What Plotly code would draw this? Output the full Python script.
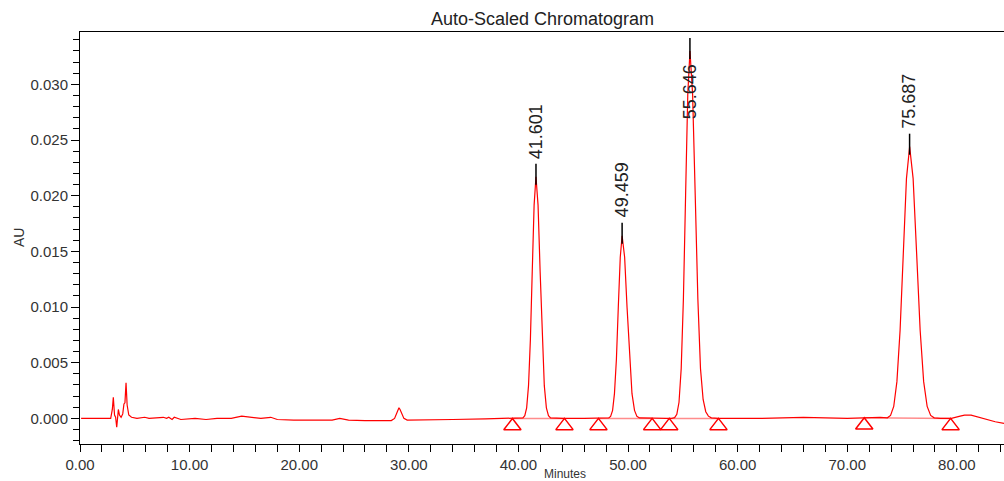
import numpy as np
import plotly.graph_objects as go

# ---------------- data ----------------
# chromatogram trace (minutes, AU)
time_min = [
    0.10, 1.00, 2.00, 2.80, 2.95, 3.04, 3.15, 3.25, 3.35, 3.43, 3.50, 3.60, 3.75, 3.90,
    4.01, 4.10, 4.20, 4.30, 4.45, 4.70, 5.20, 5.90, 6.30, 7.60, 7.90, 8.10, 8.40, 8.60,
    9.20, 10.50, 11.50, 12.50, 13.80, 14.75, 15.50, 16.50, 17.40, 18.00, 19.50, 21.00,
    23.00, 23.70, 24.50, 26.00, 28.00, 28.40, 28.70, 28.85, 29.00, 29.10, 29.20, 29.35,
    29.55, 29.85, 31.00, 34.00, 37.00, 40.00,
    40.41, 40.58, 40.75, 40.92, 41.09, 41.26, 41.43, 41.60, 41.79, 41.98, 42.17, 42.36,
    42.55, 42.74, 42.93,
    44.00, 46.00, 48.00,
    48.24, 48.41, 48.59, 48.76, 48.94, 49.11, 49.29, 49.46, 49.69, 49.91, 50.14, 50.36,
    50.59, 50.81, 51.04,
    52.00, 53.50, 54.00,
    54.25, 54.45, 54.65, 54.85, 55.05, 55.25, 55.45, 55.65, 55.89, 56.13, 56.37, 56.61,
    56.85, 57.09, 57.33, 57.60,
    58.20, 62.00, 66.00, 70.00, 73.00,
    73.66, 73.95, 74.24, 74.53, 74.82, 75.11, 75.40, 75.69, 76.01, 76.33, 76.65, 76.97,
    77.29, 77.61, 77.93,
    78.50, 79.50, 80.30, 80.70, 81.30, 82.00, 82.80, 83.50, 84.30,
]
au = [
    0.0000, 0.0000, 0.0000, 0.0000, 0.0008, 0.0019, 0.0003, 0.0001, -0.0008, 0.0002, 0.0008, 0.0003, 0.0001, 0.0004,
    0.0013, 0.0014, 0.0032, 0.0012, 0.0003, 0.0001, 0.0000, 0.0001, 0.0000, 0.0001, 0.0000, 0.0001, -0.0001, 0.0001,
    -0.0001, 0.0000, -0.0001, 0.0000, 0.0000, 0.0002, 0.0001, 0.0000, 0.0001, -0.0001, -0.00015, -0.00015,
    -0.00015, 0.0000, -0.00015, -0.0002, -0.0002, -0.0002, 0.0000, 0.0004, 0.0008, 0.00095, 0.0008, 0.0004,
    0.0000, -0.00015, -0.00015, -0.0001, -0.00005, 0.0000,
    0.00005, 0.00024, 0.00095, 0.00294, 0.00705, 0.01316, 0.01915, 0.02170, 0.01915, 0.01316, 0.00705, 0.00294,
    0.00095, 0.00024, 0.00005,
    0.0000, 0.0000, 0.0000,
    0.00004, 0.00018, 0.00072, 0.00222, 0.00533, 0.00995, 0.01447, 0.01640, 0.01447, 0.00995, 0.00533, 0.00222,
    0.00072, 0.00018, 0.00004,
    0.0000, 0.0000, 0.0000,
    0.00007, 0.00037, 0.00145, 0.00447, 0.01072, 0.02001, 0.02912, 0.03300, 0.02912, 0.02001, 0.01072, 0.00447,
    0.00170, 0.00060, 0.00020, 0.00005,
    0.0000, 0.0000, 0.0001, 0.0000, 0.0001,
    0.00005, 0.00027, 0.00107, 0.00330, 0.00792, 0.01480, 0.02153, 0.02440, 0.02153, 0.01480, 0.00792, 0.00330,
    0.00107, 0.00027, 0.00005,
    0.0000, 0.0000, 0.0002, 0.0003, 0.0003, 0.0001, -0.0001, -0.0003, -0.00045,
]

# labelled peaks
peak_times = [41.601, 49.459, 55.646, 75.687]
peak_labels = ["41.601", "49.459", "55.646", "75.687"]
peak_heights = [0.0217, 0.0164, 0.0330, 0.0244]

# integration baseline start / end points (triangle marks)
base_start = [39.45, 47.30, 53.76, 71.55]
base_end = [44.20, 52.20, 58.25, 79.43]

# axis texts
title_text = "Auto-Scaled Chromatogram"
x_title = "Minutes"
y_title = "AU"

# ---------------- figure ----------------
ML, MT, MR, MB = 80, 32, 0, 37
PLOT_W = 1004 - ML - MR
X_RANGE = [0, 84.3]
Y_RANGE = [-0.0023, 0.0347]
PLOT_H = 481 - MT - MB
px_per_au = PLOT_H / (Y_RANGE[1] - Y_RANGE[0])

font_fam = "Liberation Sans, Arial, sans-serif"
red = "#ff0000"

fig = go.Figure()

# integration baselines
t_arr = np.array(time_min)
a_arr = np.array(au)
seg_x, seg_y = [], []
for s, e in zip(base_start, base_end):
    seg_x += [s, e, None]
    seg_y += [float(np.interp(s, t_arr, a_arr)), float(np.interp(e, t_arr, a_arr)), None]
fig.add_trace(go.Scatter(x=seg_x, y=seg_y, mode="lines",
                         line=dict(color="rgba(255,0,0,0.45)", width=1.5),
                         hoverinfo="skip", showlegend=False))

# chromatogram
fig.add_trace(go.Scatter(x=time_min, y=au, mode="lines",
                         line=dict(color=red, width=1.2), showlegend=False))

# triangle marks below the baseline
tri_x = base_start + base_end
tri_off = 7.5 / px_per_au
tri_y = [float(np.interp(t, t_arr, a_arr)) - tri_off for t in tri_x]
fig.add_trace(go.Scatter(x=tri_x, y=tri_y, mode="markers",
                         marker=dict(symbol="triangle-up-open", size=15, color=red,
                                     line=dict(width=1.5, color=red)),
                         showlegend=False))

# black apex ticks + labels
up = 13 / px_per_au
down = 8 / px_per_au
label_h = 58 / px_per_au
tk_x, tk_y = [], []
for t, h, lab in zip(peak_times, peak_heights, peak_labels):
    tk_x += [t, t, None]
    tk_y += [h - down, h + up, None]
    if h + up + label_h < Y_RANGE[1]:
        fig.add_annotation(x=t, y=h + up, text=lab, showarrow=False, textangle=-90,
                           xanchor="center", yanchor="bottom", yshift=3,
                           font=dict(size=18, color="#222", family=font_fam))
    else:
        fig.add_annotation(x=t, y=h - down, text=lab, showarrow=False, textangle=-90,
                           xanchor="center", yanchor="top", yshift=-3,
                           font=dict(size=18, color="#222", family=font_fam))
fig.add_trace(go.Scatter(x=tk_x, y=tk_y, mode="lines",
                         line=dict(color="black", width=1.5), showlegend=False))

# title and axis titles
fig.add_annotation(x=0.5, y=1, xref="paper", yref="paper", text=title_text,
                   showarrow=False, xanchor="center", yanchor="bottom", yshift=1,
                   font=dict(size=18, color="#222", family=font_fam))
fig.add_annotation(x=(565 - ML) / PLOT_W, y=0, xref="paper", yref="paper", text=x_title,
                   showarrow=False, xanchor="center", yanchor="top", yshift=-21,
                   font=dict(size=12, color="#333", family=font_fam))
fig.add_annotation(x=(19 - ML) / PLOT_W, y=0.5, xref="paper", yref="paper", text=y_title,
                   showarrow=False, xanchor="center", yanchor="middle", textangle=-90,
                   font=dict(size=14, color="#333", family=font_fam))

fig.update_layout(
    width=1004, height=481,
    margin=dict(l=ML, r=MR, t=MT, b=MB, autoexpand=False),
    paper_bgcolor="white", plot_bgcolor="white",
    showlegend=False,
    xaxis=dict(range=X_RANGE, tick0=0, dtick=10, tickformat=".2f", automargin=False,
               ticks="outside", ticklen=7, tickcolor="black", tickwidth=1,
               showline=True, linecolor="black", linewidth=1, mirror=True,
               showgrid=False, zeroline=False,
               tickfont=dict(size=15, color="#333", family=font_fam),
               minor=dict(tick0=0, dtick=2, ticks="outside", ticklen=7,
                          tickcolor="black", showgrid=False)),
    yaxis=dict(range=Y_RANGE, tick0=0, dtick=0.005, tickformat=".3f", automargin=False,
               ticks="outside", ticklen=8, tickcolor="black", tickwidth=1,
               showline=True, linecolor="black", linewidth=1,
               showgrid=False, zeroline=False,
               tickfont=dict(size=15, color="#333", family=font_fam),
               minor=dict(tick0=0, dtick=0.001, ticks="outside", ticklen=6,
                          tickcolor="black", showgrid=False)),
)

fig.write_html("out.html",
               config={"displayModeBar": False},
               post_script="document.body.style.margin='0';document.body.style.overflow='hidden';")
